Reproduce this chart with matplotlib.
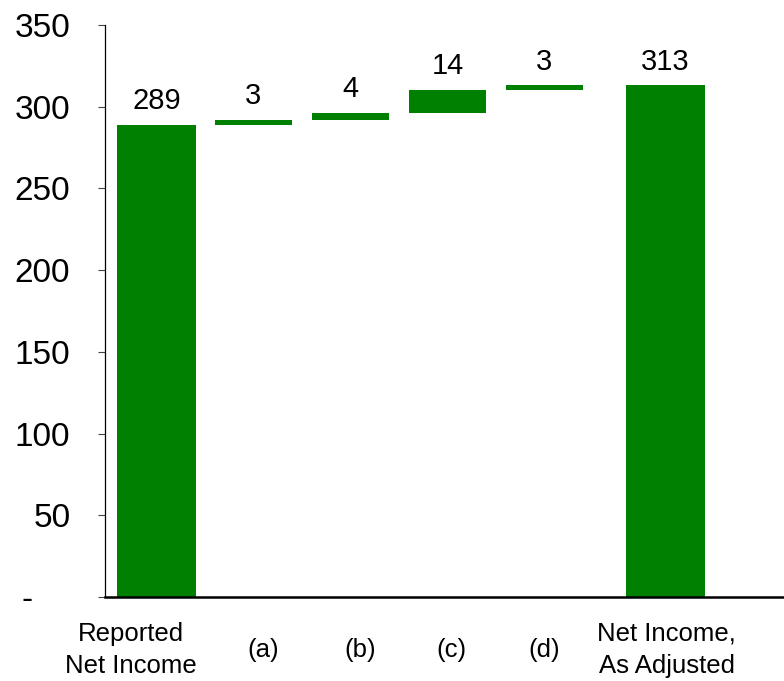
import matplotlib.pyplot as plt
import matplotlib.transforms as mtransforms
import numpy as np

plt.rcParams['font.family'] = ['Liberation Sans', 'DejaVu Sans']

categories = ["Reported\nNet Income", "(a)", "(b)", "(c)", "(d)", "Net Income,\nAs Adjusted"]
reported = 289
adjustments = [3, 4, 14, 3]
adjusted = 313

positions = np.array([0, 1, 2, 3, 4, 5.25])
green = "#008000"

fig = plt.figure(figsize=(7.84, 6.81), dpi=100)
ax = fig.add_axes([0.134, 0.1233, 0.866, 0.8403])

# totals
ax.bar(positions[0], reported, width=0.82, color=green)
ax.bar(positions[5], adjusted, width=0.82, color=green)

# floating adjustment bars
bottoms = reported + np.concatenate([[0], np.cumsum(adjustments)[:-1]])
ax.bar(positions[1:5], adjustments, bottom=bottoms, width=0.8, color=green)

values = [reported] + adjustments + [adjusted]
tops = [reported] + list(bottoms + np.array(adjustments)) + [adjusted]
for x, top, v in zip(positions, tops, values):
    ax.annotate(str(v), (x, top), xytext=(0, 7), textcoords="offset points",
                ha="center", va="bottom", fontsize=21)

ax.set_xlim(-0.53, 6.47)
ax.set_ylim(0, 350)
ax.set_yticks(range(0, 351, 50))
ax.set_yticklabels(["-    "] + [str(v) for v in range(50, 351, 50)], fontsize=24)
ax.tick_params(axis="y", length=5, width=0.8, pad=20, color="#444444")

ax.set_xticks(positions)
ax.set_xticklabels(categories, fontsize=18.5, linespacing=1.45)
ax.tick_params(axis="x", length=0, pad=38)
shifts = [-26, 10, 10, 4, 0, 1]
for lbl, dx in zip(ax.get_xticklabels(), shifts):
    lbl.set_va("center")
    lbl.set_transform(lbl.get_transform() +
                      mtransforms.ScaledTranslation(dx / 100, 0, fig.dpi_scale_trans))

for s in ["top", "right"]:
    ax.spines[s].set_visible(False)
ax.spines["left"].set_linewidth(0.9)
ax.spines["bottom"].set_linewidth(1.8)

fig.savefig("out.png", dpi=100)
